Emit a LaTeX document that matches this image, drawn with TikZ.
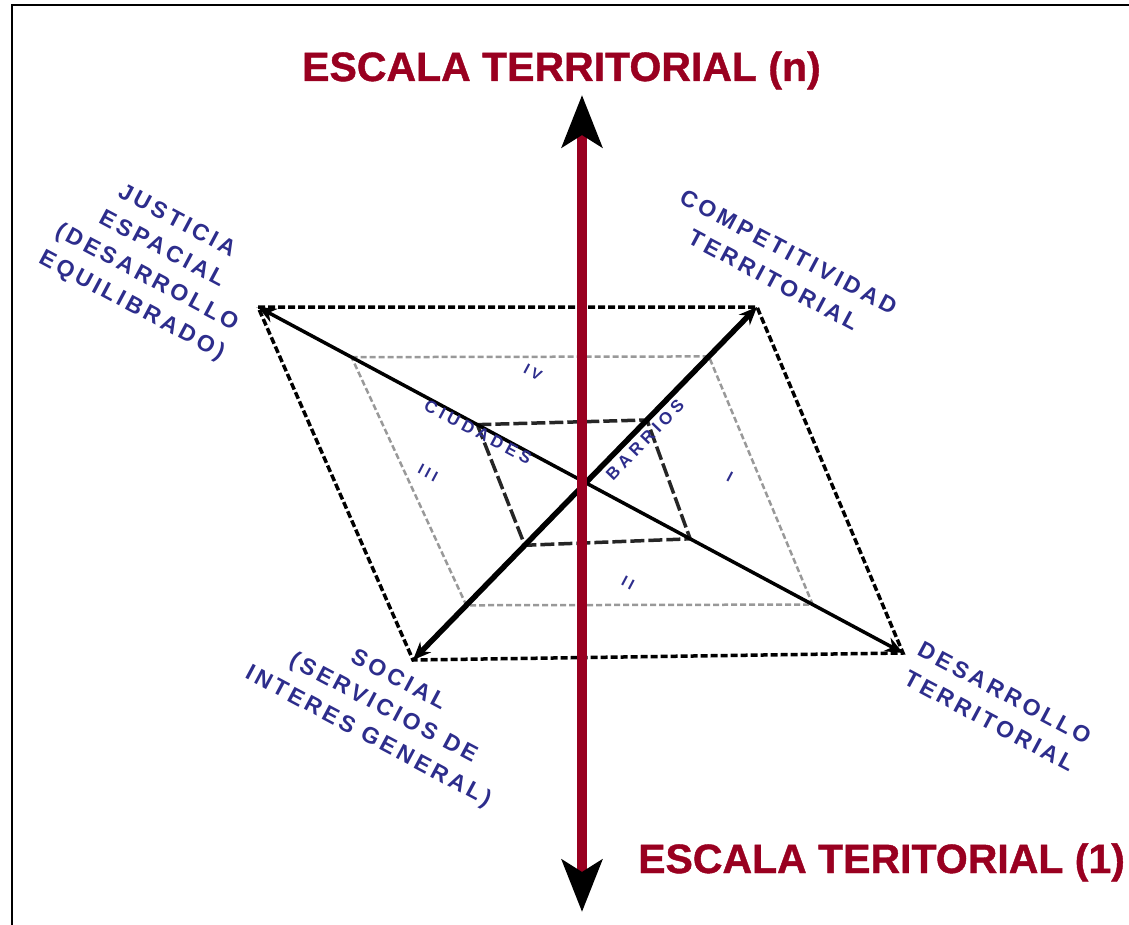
\documentclass[tikz,border=0pt]{standalone}
\usepackage{fontspec}
\setmainfont{Liberation Sans}
\newfontfamily\titlefont[FakeBold=1]{Liberation Sans Bold}
\newfontfamily\lblfont[LetterSpace=15]{Liberation Sans Bold}
\newfontfamily\inlblfont[LetterSpace=25]{Liberation Sans Bold}
\usetikzlibrary{arrows.meta,calc}
\definecolor{axisred}{RGB}{153,0,32}
\definecolor{lblue}{RGB}{45,45,140}
\tikzset{
  title/.style={text=axisred, font=\titlefont\fontsize{41}{41}\selectfont, inner sep=0pt, anchor=base west},
  lbl/.style={text=lblue, font=\lblfont\fontsize{23}{32}\selectfont, inner sep=0pt, rotate=-28, align=center},
  inlbl/.style={text=lblue, font=\inlblfont\fontsize{17}{17}\selectfont, inner sep=0pt, rotate=-28},
  roman/.style={text=lblue, font=\inlblfont\fontsize{15}{15}\selectfont, inner sep=0pt, rotate=-28},
  outerbox/.style={line width=3.5pt, black, dash pattern=on 7pt off 3pt},
  midbox/.style={line width=2.5pt, black!40, dash pattern=on 6pt off 3pt},
  innerbox/.style={line width=3.5pt, black!85, dash pattern=on 14pt off 4pt},
  diag/.style={black, {Stealth[length=18pt,width=15pt]}-{Stealth[length=18pt,width=15pt]}},
  axis/.style={axisred, line width=10pt, {Stealth[length=52pt,width=40pt,inset=12pt,color=black]}-{Stealth[length=52pt,width=40pt,inset=12pt,color=black]}},
  frame/.style={line width=2pt, black}
}
\begin{document}
\begin{tikzpicture}[x=1pt,y=-1pt]
\useasboundingbox (0,0) rectangle (1129,925);
% frame
\coordinate (F1) at (12,925);
\coordinate (F2) at (12,5);
\coordinate (F3) at (1129,5);
\draw[frame] (F1) -- (F2) -- (F3);
% corners
\coordinate (JE) at (258,307);
\coordinate (CT) at (757,307);
\coordinate (DT) at (903,653);
\coordinate (SO) at (413,660);
% middle box corners
\coordinate (M1) at ($(JE)!0.145!(DT)$);
\coordinate (M2) at ($(SO)!0.86!(CT)$);
\coordinate (M3) at ($(JE)!0.86!(DT)$);
\coordinate (M4) at ($(SO)!0.155!(CT)$);
% inner box corners
\coordinate (I1) at ($(JE)!0.34!(DT)$);
\coordinate (I2) at ($(SO)!0.68!(CT)$);
\coordinate (I3) at ($(JE)!0.67!(DT)$);
\coordinate (I4) at ($(SO)!0.325!(CT)$);
\draw[midbox] (M1) -- (M2) -- (M3) -- (M4) -- cycle;
\draw[innerbox] (I1) -- (I2) -- (I3) -- (I4) -- cycle;
\draw[outerbox] (JE) -- (CT) -- (DT) -- (SO) -- cycle;
\draw[diag, line width=5.5pt] (SO) -- (CT);
\draw[diag, line width=3.5pt] (JE) -- (DT);
% vertical axis
\coordinate (AT) at (582,95);
\coordinate (AB) at (582,912);
\draw[axis] (AB) -- (AT);
% titles
\node[title] (tn) at (302,81) {ESCALA TERRITORIAL (n)};
\node[title] (t1) at (638,873) {ESCALA TERITORIAL (1)};
% corner labels
\node[lbl] (je) at (154,264) {JUSTICIA\\ESPACIAL\\(DESARROLLO\\EQUILIBRADO)};
\node[lbl] (ct) at (781,266) {COMPETITIVIDAD\\TERRITORIAL};
\node[lbl] (so) at (383,709) {SOCIAL\\(SERVICIOS DE\\INTERES GENERAL)};
\node[lbl] (dt) at (997,707) {DESARROLLO\\TERRITORIAL};
% inner labels
\node[inlbl] (ciu) at (478,432) {CIUDADES};
\node[inlbl, rotate=74] (bar) at (645,440) {BARRIOS};
\node[roman] (q4) at (533,372) {IV};
\node[roman] (q3) at (428,473) {III};
\node[roman] (q1) at (730,477) {I};
\node[roman] (q2) at (628,583) {II};
\end{tikzpicture}
\end{document}
